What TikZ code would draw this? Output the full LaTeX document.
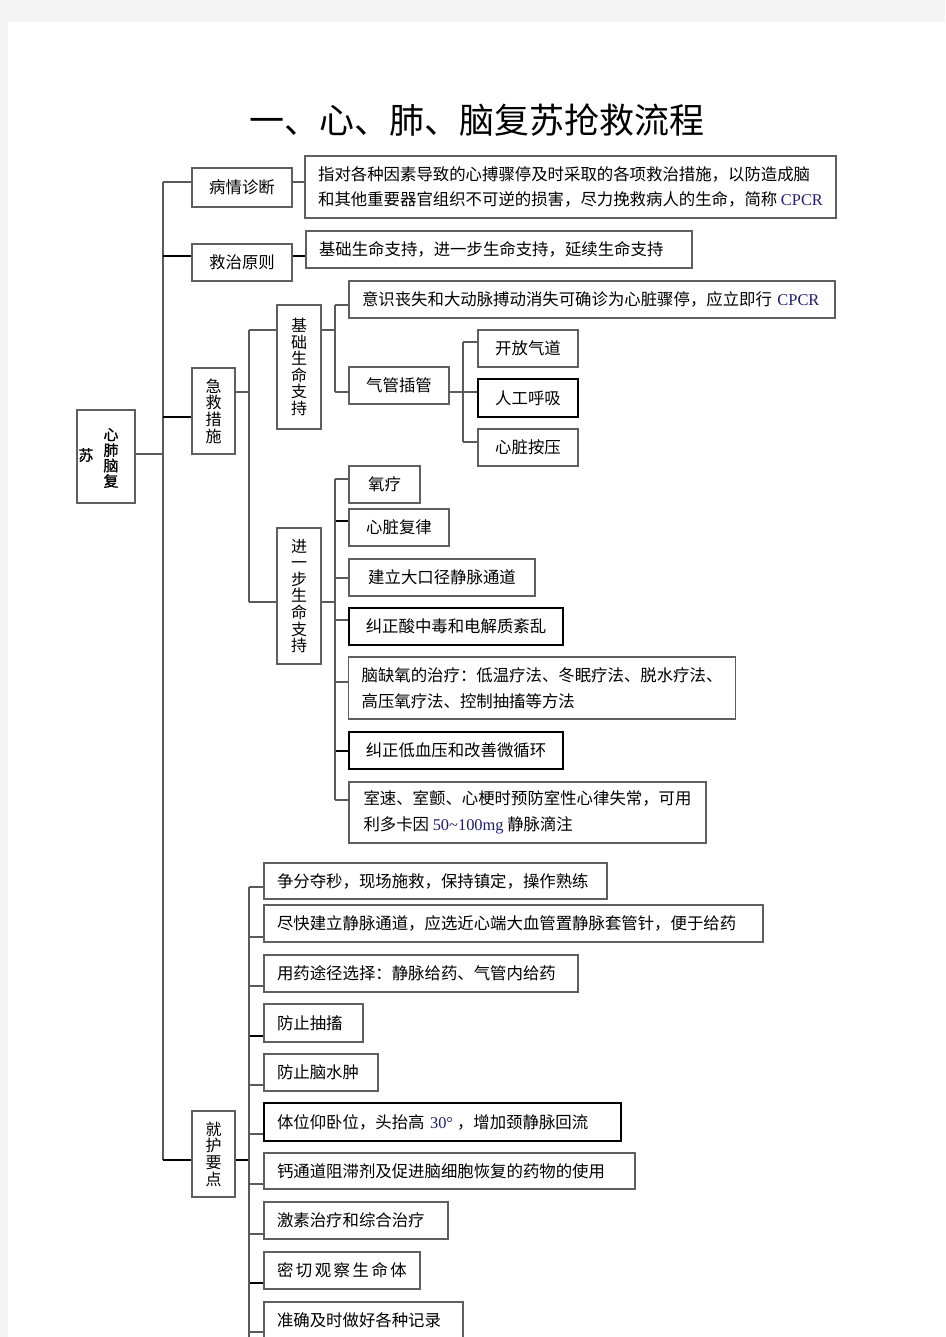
\documentclass[tikz,border=0pt]{standalone}
\usepackage{fontspec}
\newfontfamily\cjk{Noto Sans CJK SC}
\newfontfamily\cjkb{Noto Sans CJK SC}[FakeBold=1.2]
\newfontfamily\lat{Liberation Serif}
\usetikzlibrary{calc}
\definecolor{bordergray}{RGB}{95,95,95}
\definecolor{linkgray}{RGB}{90,90,90}
\definecolor{navy}{RGB}{30,30,110}
\definecolor{pagegray}{RGB}{243,243,243}
\tikzset{
  box/.style={draw=bordergray, line width=1.3pt, inner ysep=0pt,
    font=\cjk\fontsize{16.4}{25.5}\selectfont},
  heavy/.style={draw=black, line width=2pt},
  vtext/.style={font=\cjk\fontsize{16}{16.6}\selectfont},
  link/.style={draw=linkgray, line width=1.3pt},
  boldlink/.style={draw=black, line width=2.4pt},
}
\newcommand\mybox[7][]{%
  \pgfmathsetmacro\bxw{#5-#3}\pgfmathsetmacro\bxh{#6-#4}%
  \pgfmathsetmacro\bxtw{#5-#3-26}%
  \node[box, minimum width=\bxw pt, minimum height=\bxh pt, text width=\bxtw pt,
    inner xsep=13pt, align=left, #1] (#2) at ({(#3+#5)/2},{(#4+#6)/2}) {#7};}
\newcommand\lt[1]{{\lat\color{navy}#1}}
\begin{document}
\begin{tikzpicture}[x=1pt,y=-1pt]
\fill[pagegray] (0,0) rectangle (945,1337);
\fill[white] (8,22) rectangle (945,1337);
\useasboundingbox (0,0) rectangle (945,1337);

\node[font=\cjk\fontsize{35}{40}\selectfont] (title) at (477,120) {一、心、肺、脑复苏抢救流程};

% root
\mybox[align=center]{root}{77}{410}{135}{503}{}
\node[font=\cjkb\fontsize{15}{15.5}\selectfont, align=center, inner sep=0pt] (rootcol) at (111,458) {心\\肺\\脑\\复};
\node[font=\cjkb\fontsize{15}{15}\selectfont, inner sep=0pt] (rootsu) at (86,455) {苏};

% level 1
\mybox[align=center]{A}{192}{168}{292}{207}{病情诊断}
\mybox[text width={}]{Adesc}{306}{156}{835}{218}{指对各种因素导致的心搏骤停及时采取的各项救治措施，以防造成脑\\和其他重要器官组织不可逆的损害，尽力挽救病人的生命，简称 \lt{CPCR}}
\mybox[align=center]{B}{192}{244}{292}{281}{救治原则}
\mybox{Bdesc}{306}{231}{692}{268}{基础生命支持，进一步生命支持，延续生命支持}
\mybox[align=center,vtext]{C}{192}{368}{235}{454}{急\\救\\措\\施}
\mybox[align=center,vtext]{D}{192}{1111}{235}{1197}{就\\护\\要\\点}

% basic life support
\mybox[align=center,vtext]{C1}{277}{305}{321}{429}{基\\础\\生\\命\\支\\持}
\mybox{C1a}{349}{281}{835}{318}{意识丧失和大动脉搏动消失可确诊为心脏骤停，应立即行 \lt{CPCR}}
\mybox[align=center]{C1b}{349}{367}{449}{404}{气管插管}
\mybox[align=center]{air1}{478}{330}{578}{367}{开放气道}
\mybox[align=center,heavy]{air2}{478}{379}{578}{417}{人工呼吸}
\mybox[align=center]{air3}{478}{429}{578}{466}{心脏按压}

% advanced life support
\mybox[align=center,vtext]{C2}{277}{528}{321}{664}{进\\一\\步\\生\\命\\支\\持}
\mybox[align=center]{o1}{349}{466}{420}{503}{氧疗}
\mybox[align=center]{o2}{349}{509}{449}{546}{心脏复律}
\mybox[align=center]{o3}{349}{559}{535}{596}{建立大口径静脉通道}
\mybox[align=center,heavy]{o4}{349}{608}{563}{645}{纠正酸中毒和电解质紊乱}
\mybox[text width={}]{o5}{349}{657}{735}{719}{脑缺氧的治疗：低温疗法、冬眠疗法、脱水疗法、\\高压氧疗法、控制抽搐等方法}
\mybox[align=center,heavy]{o6}{349}{732}{563}{769}{纠正低血压和改善微循环}
\mybox[text width={}]{o7}{349}{782}{706}{843}{室速、室颤、心梗时预防室性心律失常，可用\\利多卡因 \lt{50\textasciitilde100mg} 静脉滴注}

% nursing points
\mybox{n1}{264}{863}{607}{899}{争分夺秒，现场施救，保持镇定，操作熟练}
\mybox{n2}{264}{905}{763}{942}{尽快建立静脉通道，应选近心端大血管置静脉套管针，便于给药}
\mybox{n3}{264}{955}{578}{992}{用药途径选择：静脉给药、气管内给药}
\mybox{n4}{264}{1004}{363}{1042}{防止抽搐}
\mybox{n5}{264}{1054}{378}{1091}{防止脑水肿}
\mybox[heavy]{n6}{264}{1103}{621}{1141}{体位仰卧位，头抬高 \lt{30°}\hspace{4pt}，增加颈静脉回流}
\mybox{n7}{264}{1153}{635}{1189}{钙通道阻滞剂及促进脑细胞恢复的药物的使用}
\mybox{n8}{264}{1202}{448}{1239}{激素治疗和综合治疗}
\mybox{n9}{264}{1252}{420}{1289}{密\hspace{2.5pt}切\hspace{2.5pt}观\hspace{2.5pt}察\hspace{2.5pt}生\hspace{2.5pt}命\hspace{2.5pt}体}
\mybox{n10}{264}{1302}{463}{1339}{准确及时做好各种记录}

% trunk
\coordinate (tA) at (163,182);
\coordinate (tB) at (163,256);
\coordinate (tC) at (163,417);
\coordinate (tR) at (163,454);
\coordinate (tD) at (163,1160);
\draw[link] (tA) -- (tD);
\draw[link] (root.east |- tR) -- (tR);
\draw[link] (tA) -- (tA -| A.west);
\draw[boldlink] (tB) -- (tB -| B.west);
\draw[boldlink] (tC) -- (tC -| C.west);
\draw[boldlink] (tD) -- (tD -| D.west);
\draw[link] (A.east |- tA) -- (Adesc.west |- tA);
\draw[boldlink] (B.east |- tB) -- (Bdesc.west |- tB);

% emergency measures
\coordinate (cA) at (249,330);
\coordinate (cB) at (249,392);
\coordinate (cC) at (249,602);
\draw[link] (C.east |- cB) -- (cB);
\draw[link] (cA) -- (cC);
\draw[link] (cA) -- (cA -| C1.west);
\draw[link] (cC) -- (cC -| C2.west);

% basic life support branches
\coordinate (d1) at (335,305);
\coordinate (d2) at (335,330);
\coordinate (d3) at (335,392);
\draw[link] (C1.east |- d2) -- (d2);
\draw[link] (d1) -- (d3);
\draw[link] (d1) -- (d1 -| C1a.west);
\draw[link] (d3) -- (d3 -| C1b.west);
\coordinate (e1) at (463,342);
\coordinate (e2) at (463,392);
\coordinate (e3) at (463,442);
\draw[link] (C1b.east |- e2) -- (e2 -| air2.west);
\draw[link] (e1) -- (e3);
\draw[link] (e1) -- (e1 -| air1.west);
\draw[link] (e3) -- (e3 -| air3.west);

% advanced life support branches
\coordinate (f0) at (335,602);
\draw[link] (C2.east |- f0) -- (f0);
\foreach \nm/\yy/\st in {o1/479/link,o2/521/boldlink,o3/578/link,o4/620/link,o5/682/link,o6/751/boldlink,o7/800/link}{
  \coordinate (j\nm) at (335,\yy);
  \draw[\st] (j\nm) -- (j\nm -| \nm.west);
}
\draw[link] (jo1) -- (jo7);

% nursing branches
\coordinate (g0) at (249,1160);
\draw[boldlink] (D.east |- g0) -- (g0);
\foreach \nm/\yy/\st in {n1/887/link,n2/937/link,n3/986/link,n4/1036/boldlink,n5/1085/link,n6/1134/link,n7/1184/link,n8/1234/link,n9/1283/boldlink,n10/1332/link}{
  \coordinate (k\nm) at (249,\yy);
  \draw[\st] (k\nm) -- (k\nm -| \nm.west);
}
\coordinate (kend) at (249,1345);
\draw[link] (kn1) -- (kend);
\end{tikzpicture}
\end{document}
